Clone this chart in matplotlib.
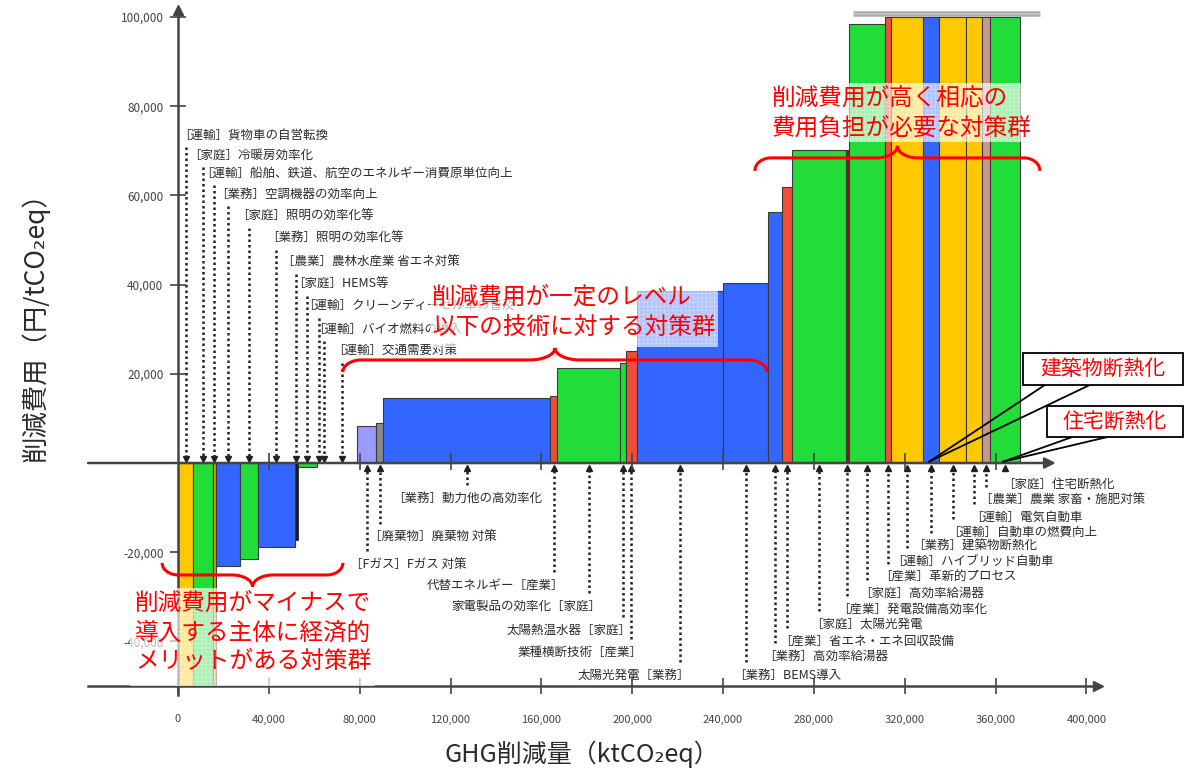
import matplotlib
matplotlib.use("Agg")
import matplotlib.pyplot as plt
import numpy as np
from matplotlib.patches import Rectangle, PathPatch
from matplotlib.path import Path

plt.rcParams['font.family'] = ['Noto Sans CJK JP', 'DejaVu Sans']
plt.rcParams['hatch.linewidth'] = 0.5

Y, G, B, R = '#FFC800', '#22DC3A', '#3366FF', '#F04E38'

# one entry per measure, in merit order: abatement (ktCO2eq) and cost (yen/tCO2eq)
widths = [6600, 8800, 1300, 10600, 7900, 16300, 1300, 8400,
          1800, 2600, 13200,
          8400, 3100, 73500, 3100, 27700, 2600, 4900, 37900, 19800,
          6200, 4400, 23700, 1300, 15900, 2600, 14100, 7100, 11900,
          7000, 3500, 13200]
costs = [-50000, -50000, -50000, -23100, -21500, -18800, -17300, -900,
         0, 0, 0,
         8300, 9000, 14600, 15000, 21300, 22400, 25100, 38600, 40400,
         56300, 61900, 70200, 70200, 98400, 100000, 100000, 100000, 100000,
         100000, 100000, 100000]  # last ones run off the top of the scale
colors = [Y, G, '#C8A400', B, G, B, '#1A1A1A', G,
          'none', 'none', 'none',
          '#9A9AFF', '#8A8A8A', B, R, G, G, R, B, B,
          B, R, G, '#8B1A10', G, R, Y, B, Y,
          Y, '#C89890', G]

xticks = list(range(0, 400001, 40000))
yticks = [-40000, -20000, 20000, 40000, 60000, 80000, 100000]

top_labels = ["［運輸］貨物車の自営転換", "［家庭］冷暖房効率化",
              "［運輸］船舶、鉄道、航空のエネルギー消費原単位向上",
              "［業務］空調機器の効率向上", "［家庭］照明の効率化等",
              "［業務］照明の効率化等", "［農業］農林水産業 省エネ対策",
              "［家庭］HEMS等", "［運輸］クリーンディーゼル車の普及",
              "［運輸］バイオ燃料の導入", "［運輸］交通需要対策"]
top_bars = [0, 1, 2, 3, 4, 5, 6, 7, 8, 9, 10]

low_labels = ["［業務］動力他の高効率化", "［廃棄物］廃棄物 対策", "［Fガス］Fガス 対策",
              "代替エネルギー［産業］", "家電製品の効率化［家庭］", "太陽熱温水器［家庭］",
              "業種横断技術［産業］", "太陽光発電［業務］"]
low_bars = [13, 12, 11, 14, 15, 16, 17, 18]

right_labels = ["［業務］BEMS導入", "［業務］高効率給湯器", "［産業］省エネ・エネ回収設備",
                "［家庭］太陽光発電", "［産業］発電設備高効率化", "［家庭］高効率給湯器",
                "［産業］革新的プロセス", "［運輸］ハイブリッド自動車", "［業務］建築物断熱化",
                "［運輸］自動車の燃費向上", "［運輸］電気自動車", "［農業］農業 家畜・施肥対策",
                "［家庭］住宅断熱化"]
right_bars = [19, 20, 21, 22, 23, 24, 25, 26, 27, 28, 29, 30, 31]

# layout of the annotation texts (data coords)
top_xy = [(2200, 73540), (6600, 69050), (11890, 65020), (18490, 60310), (27740, 55380),
          (40950, 50450), (47990, 45060), (52400, 40130), (56800, 35200), (61200, 30040),
          (70010, 25110)]
low_xy = [(96430, -7850, 'left'), (86300, -16590, 'left'), (77930, -22640, 'left'),
          (168200, -27350, 'right'), (184490, -32060, 'right'), (197700, -37440, 'right'),
          (202540, -42370, 'right'), (223670, -47530, 'right')]
right_xy = [(246570, -47530), (259780, -43270), (266820, -39910), (280470, -36100),
            (292360, -32730), (302050, -29150), (310850, -25560), (316140, -21970),
            (325380, -18610), (340790, -15470), (350920, -12110), (355320, -8300),
            (365010, -4710)]

AX = '#444444'
TXT = '#2b2b2b'
DOT = (0, (1, 1.2))

fig = plt.figure(figsize=(11.9, 7.71), dpi=100)
ax = fig.add_axes([0, 0, 1, 1])
ax.set_xlim(-78400, 445600)
ax.set_ylim(-69050, 103800)

lefts = np.concatenate([[0], np.cumsum(widths)[:-1]])
centers = lefts + np.array(widths) / 2
edges = ['none' if c == 'none' else '#3a3a3a' for c in colors]
ax.bar(lefts, costs, width=widths, align='edge', color=colors,
       edgecolor=edges, linewidth=0.8, zorder=2)

# off-scale marker above the tall bars
ax.hlines([100500, 101200], 297200, 379500, color='#aaaaaa', lw=1.8, zorder=3)

# axes
for s in ['top', 'right']:
    ax.spines[s].set_visible(False)
ax.spines['left'].set_position(('data', 0))
ax.spines['left'].set_bounds(-52000, 100800)
ax.spines['bottom'].set_position(('data', -50000))
ax.spines['bottom'].set_bounds(-39600, 404000)
for s in ['left', 'bottom']:
    ax.spines[s].set_color(AX)
    ax.spines[s].set_linewidth(1.8)
    ax.spines[s].set_zorder(4)
ax.plot([0], [101500], marker='^', color=AX, ms=7, zorder=4)
ax.plot([405000], [-50000], marker='>', color=AX, ms=7, zorder=4)

ax.set_xticks(xticks, [f"{v:,}" for v in xticks])
ax.set_yticks(yticks, [f"{v:,}" for v in yticks])
ax.tick_params(axis='x', direction='inout', length=11, width=1.2, pad=15,
               labelsize=8, color=AX, labelcolor=AX)
ax.tick_params(axis='y', direction='inout', length=11, width=1.2, pad=5,
               labelsize=8.5, color=AX, labelcolor=AX)

# zero line
ax.annotate('', xy=(386500, 0), xytext=(-39600, 0),
            arrowprops=dict(arrowstyle='-|>', color=AX, lw=1.8,
                            mutation_scale=16, shrinkA=0, shrinkB=0), zorder=4)
ax.vlines(xticks[1:-1], -1500, 2200, color=AX, lw=1.2, zorder=4)

ax.text(-63000, 32000, "削減費用（円/tCO₂eq）", rotation=90, fontsize=19,
        color=TXT, ha='center', va='center')
ax.text(177900, -65200, "GHG削減量（ktCO₂eq）", fontsize=18, color=TXT,
        ha='center', va='center')


def place(tx, ha, text):
    # full-width brackets carry blank space on their outer side
    if ha == 'left' and text.startswith('［'):
        return tx - 2000
    if ha == 'right' and text.endswith('］'):
        return tx + 2000
    return tx


# measure labels with dotted leaders
for text, i, (tx, ty) in zip(top_labels, top_bars, top_xy):
    ax.text(place(tx, 'left', text), ty, text, fontsize=9, color=TXT, va='center', zorder=3)
    ax.plot([centers[i]] * 2, [ty - 2700, 1000], ls=DOT, lw=1.8, color='#222', zorder=3)
    ax.plot(centers[i], 1000, marker='v', ms=4, color='#222', zorder=3)

for text, i, (tx, ty, ha) in zip(low_labels + right_labels, low_bars + right_bars,
                                  low_xy + [(x, y, 'left') for x, y in right_xy]):
    ax.text(place(tx, ha, text), ty, text, fontsize=9, color=TXT, va='center', ha=ha, zorder=3)
    ax.plot([centers[i]] * 2, [ty + 2900, -1100], ls=DOT, lw=1.8, color='#222', zorder=3)
    ax.plot(centers[i], -1100, marker='^', ms=4, color='#222', zorder=3)


def soft_box(x0, y0, x1, y1):
    ax.add_patch(Rectangle((x0, y0), x1 - x0, y1 - y0, facecolor=(1, 1, 1, 0.62),
                           edgecolor='none', zorder=5))
    ax.add_patch(Rectangle((x0, y0), x1 - x0, y1 - y0, facecolor='none',
                           edgecolor=(1, 1, 1, 0.35), hatch='++++', lw=0, zorder=5))


def brace(x0, x1, y_tip, y_line, y_cusp, r_end, r_mid):
    xc = (x0 + x1) / 2
    k = 0.5
    verts = [(x0, y_tip),
             (x0, y_tip + 0.6 * (y_line - y_tip)), (x0 + k * r_end, y_line), (x0 + r_end, y_line),
             (xc - r_mid, y_line),
             (xc - k * r_mid, y_line), (xc, y_line + 0.4 * (y_cusp - y_line)), (xc, y_cusp),
             (xc, y_line + 0.4 * (y_cusp - y_line)), (xc + k * r_mid, y_line), (xc + r_mid, y_line),
             (x1 - r_end, y_line),
             (x1 - k * r_end, y_line), (x1, y_tip + 0.6 * (y_line - y_tip)), (x1, y_tip)]
    codes = [Path.MOVETO] + [Path.CURVE4] * 3 + [Path.LINETO] + [Path.CURVE4] * 6 + \
            [Path.LINETO] + [Path.CURVE4] * 3
    ax.add_patch(PathPatch(Path(verts, codes), facecolor='none', edgecolor='red',
                           lw=2.2, zorder=6))


# group annotations
soft_box(-21100, -50000, 86700, -28000)
soft_box(111000, 26000, 237800, 39200)
soft_box(258500, 72000, 377300, 85200)

brace(-7000, 72600, -22400, -25100, -27800, 7000, 9000)
brace(72600, 259300, 20400, 23100, 25800, 8000, 11000)
brace(254000, 379500, 65500, 68400, 71100, 7000, 9000)

group_text = [(-18900, [-31400, -38100, -44600], ["削減費用がマイナスで", "導入する主体に経済的", "メリットがある対策群"]),
              (111800, [37200, 30500], ["削減費用が一定のレベル", "以下の技術に対する対策群"]),
              (261500, [81800, 75100], ["削減費用が高く相応の", "費用負担が必要な対策群"])]
for gx, gys, lines in group_text:
    for gy, line in zip(gys, lines):
        ax.text(gx, gy, line, fontsize=17, color='red', va='center', zorder=6)

# callouts for insulation measures
callouts = [("建築物断熱化", (372000, 17500, 442500, 24700), [381700, 401500], 27),
            ("住宅断熱化", (382600, 5800, 442500, 12800), [393600, 409000], 31)]
for text, (bx0, by0, bx1, by1), roots, i in callouts:
    for rx in roots:
        ax.plot([rx, centers[i] - 800], [by0, 300], color='black', lw=1.3, zorder=6)
    ax.add_patch(Rectangle((bx0, by0), bx1 - bx0, by1 - by0, facecolor='white',
                           edgecolor='black', lw=1.3, zorder=6))
    ax.text((bx0 + bx1) / 2, (by0 + by1) / 2, text, fontsize=15, color='red',
            ha='center', va='center', zorder=7)

fig.savefig("out.png", dpi=100)
